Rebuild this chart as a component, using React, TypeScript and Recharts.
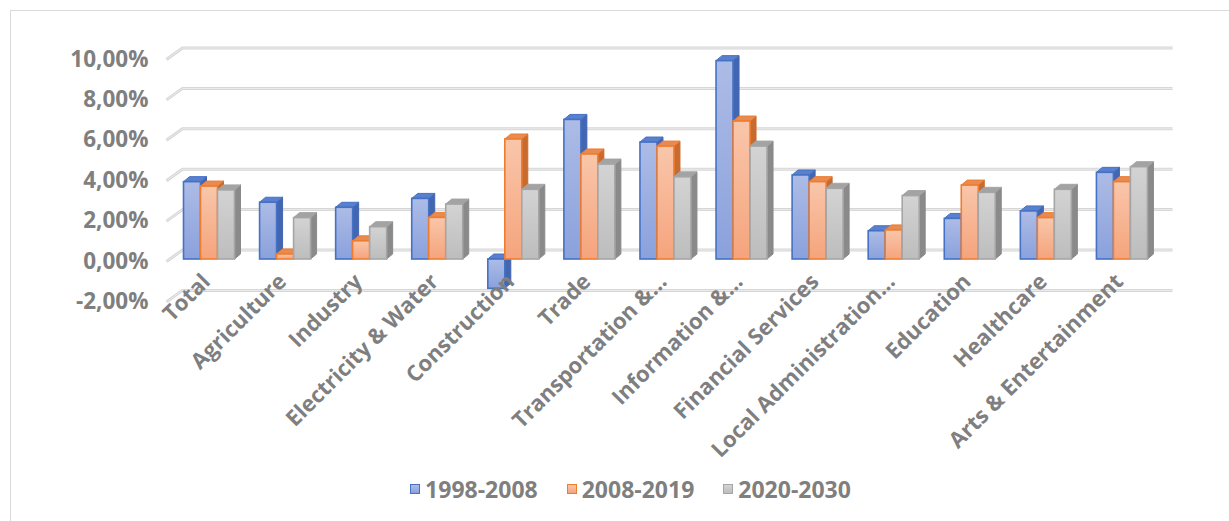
import React from 'react';
import { BarChart, Bar, XAxis, YAxis, CartesianGrid } from 'recharts';

const categories = [
  'Total',
  'Agriculture',
  'Industry',
  'Electricity & Water',
  'Construction',
  'Trade',
  'Transportation &…',
  'Information &…',
  'Financial Services',
  'Local Administration…',
  'Education',
  'Healthcare',
  'Arts & Entertainment',
];
const series1998 = [3.83, 2.81, 2.56, 3.0, -1.45, 6.91, 5.79, 9.82, 4.16, 1.4, 2.01, 2.38, 4.29];
const series2008 = [3.61, 0.25, 0.9, 2.06, 5.94, 5.2, 5.59, 6.83, 3.83, 1.44, 3.66, 2.05, 3.83];
const series2020 = [3.42, 2.05, 1.6, 2.72, 3.45, 4.7, 4.07, 5.59, 3.5, 3.14, 3.3, 3.45, 4.57];
const seriesNames = ['1998-2008', '2008-2019', '2020-2030'];
const yTicks = [-2, 0, 2, 4, 6, 8, 10];

const data = categories.map((name, i) => ({
  name,
  s1: series1998[i],
  s2: series2008[i],
  s3: series2020[i],
}));

const palette = [
  { id: 'gBlue', stroke: '#4472c4', g1: '#adbce6', g2: '#8aa1dc', side: '#4366b3', cap: '#5a7fcf' },
  { id: 'gOrange', stroke: '#ed7d31', g1: '#f9c6aa', g2: '#f5a47c', side: '#c96b2e', cap: '#e98a50' },
  { id: 'gGray', stroke: '#a5a5a5', g1: '#d3d3d3', g2: '#bdbdbd', side: '#8a8a8a', cap: '#a3a3a3' },
];

const TEXT = '#7f7f7f';
const FONT = "'Open Sans', 'Noto Sans', sans-serif";

const Bar3D = (props: any) => {
  const { x, y, width, height, c } = props;
  if (x == null || y == null) return null;
  const top = height < 0 ? y + height : y;
  const h = Math.abs(height);
  const w = width;
  const dx = 6;
  const dy = 5;
  const sidePts = `${x + w},${top} ${x + w + dx},${top - dy} ${x + w + dx},${top + h - dy} ${x + w},${top + h}`;
  const capPts = `${x},${top} ${x + dx},${top - dy} ${x + w + dx},${top - dy} ${x + w},${top}`;
  return (
    <g>
      <polygon points={sidePts} fill={c.side} stroke={c.side} strokeWidth={1} strokeLinejoin="round" />
      <polygon points={capPts} fill={c.cap} stroke={c.stroke} strokeWidth={1} strokeLinejoin="round" />
      <rect x={x} y={top} width={w} height={h} fill={`url(#${c.id})`} stroke={c.stroke} strokeWidth={1.6} />
    </g>
  );
};

const GridLine = (p: any) => {
  const { x1, x2, y1 } = p;
  const d = `M${x1 - 4},${y1 + 2.5} L${x1 + 12},${y1 - 9} L${x2 + 13},${y1 - 9}`;
  return (
    <g key={p.key}>
      <path d={d} fill="none" stroke="#d6d6d6" strokeWidth={3} strokeLinejoin="round" />
      <path d={d} fill="none" stroke="#ececec" strokeWidth={1} strokeLinejoin="round" />
    </g>
  );
};

const YTick = (p: any) => {
  const { x, y, payload } = p;
  const label = payload.value.toFixed(2).replace('.', ',') + '%';
  return (
    <text x={x} y={y + 1.5} dy="0.36em" textAnchor="end" fill={TEXT} fontFamily={FONT} fontWeight={700} fontSize={22.5}>
      {label}
    </text>
  );
};

const XTick = (p: any) => {
  const { x, payload } = p;
  const ax = x + 3;
  const ay = 283;
  return (
    <text
      x={ax}
      y={ay}
      textAnchor="end"
      transform={`rotate(-45 ${ax} ${ay})`}
      fill={TEXT}
      fontFamily={FONT}
      fontWeight={700}
      fontSize={22}
    >
      {payload.value}
    </text>
  );
};

export default function App() {
  return (
    <div
      style={{
        position: 'absolute',
        left: 0,
        top: 0,
        width: 1229,
        height: 521,
        overflow: 'hidden',
        background: '#fff',
        fontFamily: FONT,
      }}
    >
      <div
        style={{
          position: 'absolute',
          left: 10,
          top: 10,
          width: 1400,
          height: 700,
          border: '1px solid #d9d9d9',
          boxSizing: 'border-box',
        }}
      />
      <div style={{ position: 'absolute', left: 0, top: 0 }}>
        <BarChart
          width={1229}
          height={521}
          data={data}
          margin={{ top: 57, right: 69.5, bottom: 21.6, left: 10.5 }}
          barGap={0}
        >
          <defs>
            {palette.map((c) => (
              <linearGradient key={c.id} id={c.id} x1="0" y1="0" x2="0" y2="1">
                <stop offset="0%" stopColor={c.g1} />
                <stop offset="100%" stopColor={c.g2} />
              </linearGradient>
            ))}
          </defs>
          <CartesianGrid vertical={false} horizontal={(p: any) => <GridLine {...p} />} />
          <XAxis
            dataKey="name"
            height={200}
            interval={0}
            axisLine={false}
            tickLine={false}
            tickSize={0}
            tick={<XTick />}
          />
          <YAxis
            width={160}
            domain={[-2, 10]}
            ticks={yTicks}
            axisLine={false}
            tickLine={false}
            tickSize={0}
            tickMargin={22}
            tick={<YTick />}
          />
          <Bar dataKey="s1" name={seriesNames[0]} barSize={17} isAnimationActive={false} shape={(p: any) => <Bar3D {...p} c={palette[0]} />} />
          <Bar dataKey="s2" name={seriesNames[1]} barSize={17} isAnimationActive={false} shape={(p: any) => <Bar3D {...p} c={palette[1]} />} />
          <Bar dataKey="s3" name={seriesNames[2]} barSize={17} isAnimationActive={false} shape={(p: any) => <Bar3D {...p} c={palette[2]} />} />
        </BarChart>
      </div>
      <div
        style={{
          position: 'absolute',
          left: 16,
          top: 475,
          width: 1229,
          display: 'flex',
          justifyContent: 'center',
          gap: 29,
        }}
      >
        {seriesNames.map((n, i) => (
          <div key={n} style={{ display: 'flex', alignItems: 'center' }}>
            <div
              style={{
                width: 10,
                height: 10,
                boxSizing: 'border-box',
                border: `1px solid ${palette[i].stroke}`,
                background: `linear-gradient(${palette[i].g1}, ${palette[i].g2})`,
                marginRight: 5,
              }}
            />
            <span style={{ color: TEXT, fontWeight: 700, fontSize: 23, lineHeight: '28px' }}>{n}</span>
          </div>
        ))}
      </div>
    </div>
  );
}
